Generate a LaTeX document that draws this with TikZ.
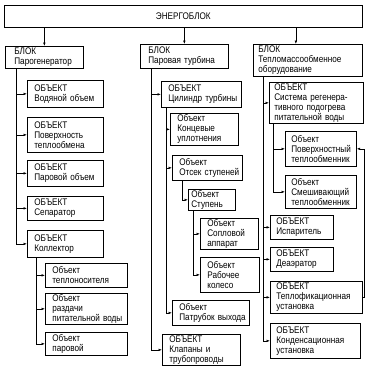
\documentclass[tikz,border=0pt]{standalone}
\usepackage{fontspec}
\setmainfont{Liberation Sans}[FakeStretch=0.85]
\usetikzlibrary{arrows.meta}

\begin{document}
\begin{tikzpicture}[x=1pt, y=-1pt,
         box/.style = {draw, line width=0.7pt, anchor=north west, align=left,
      inner xsep=7pt, inner ysep=1pt, font=\fontsize{9.6}{10}\selectfont},
         arr/.style = {line width=0.6pt, -{Latex[length=3.5pt,width=2.6pt]}}]

   \useasboundingbox (0,0) rectangle (365,373);

   % top
   \node[box, align=center, text width=344pt, minimum height=22pt] (top) at (4,5) {ЭНЕРГОБЛОК};

   % blocks
   \node[box, inner xsep=9pt, text width=60pt, minimum height=22pt] (blk1) at (5,46)  {БЛОК\\Парогенератор};
   \node[box, inner xsep=8pt, text width=72pt, minimum height=24pt] (blk2) at (140,44) {БЛОК\\Паровая~турбина};
   \node[box, inner xsep=5pt, text width=99pt, minimum height=32pt] (blk3) at (253,44) {БЛОК\\Тепломассообменное\\оборудование};

   % steam generator
   \node[box, text width=62pt, minimum height=27pt] (o11) at (27,80)  {ОБЪЕКТ\\Водяной~объем};
   \node[box, text width=62pt, minimum height=35pt] (o12) at (27,117) {ОБЪЕКТ\\Поверхность\\теплообмена};
   \node[box, text width=62pt, minimum height=26pt] (o13) at (27,160) {ОБЪЕКТ\\Паровой~объем};
   \node[box, text width=62pt, minimum height=24pt] (o14) at (27,196) {ОБЪЕКТ\\Сепаратор};
   \node[box, text width=62pt, minimum height=27pt] (o15) at (27,230) {ОБЪЕКТ\\Коллектор};
   \node[box, text width=68pt, minimum height=24pt] (o151) at (45,263) {Объект\\теплоносителя};
   \node[box, text width=68pt, minimum height=30pt] (o152) at (45,293) {Объект\\раздачи\\питательной~воды};
   \node[box, text width=68pt, minimum height=23pt] (o153) at (45,332) {Объект\\паровой};

   % turbine
   \node[box, text width=66pt, minimum height=26pt] (o21) at (161,81)  {ОБЪЕКТ\\Цилиндр~турбины};
   \node[box, text width=54pt, minimum height=32pt] (o211) at (170,113) {Объект\\Концевые\\уплотнения};
   \node[box, text width=56pt, minimum height=25pt] (o212) at (172,155) {Объект\\Отсек~ступеней};
   \node[box, inner xsep=3pt, text width=41pt, minimum height=19pt] (o2121) at (188,189) {Объект\\Ступень};
   \node[box, text width=44pt, minimum height=29pt] (o21211) at (200,218) {Объект\\Сопловой\\аппарат};
   \node[box, text width=45pt, minimum height=35pt] (o21212) at (200,257) {Объект\\Рабочее\\колесо};
   \node[box, text width=63pt, minimum height=25pt] (o213) at (172,300) {Объект\\Патрубок~выхода};
   \node[box, text width=64pt, minimum height=31pt] (o22) at (162,334)  {ОБЪЕКТ\\Клапаны~и\\трубопроводы};

   % heat and mass exchange
   \node[box, inner xsep=5pt, text width=84pt, minimum height=41pt] (o31) at (269,82) {ОБЪЕКТ\\Система~регенера-\\тивного~подогрева\\питательной~воды};
   \node[box, inner xsep=6pt, text width=59pt, minimum height=35pt] (o311) at (285,131) {Объект\\Поверхностный\\теплообменник};
   \node[box, inner xsep=6pt, text width=59pt, minimum height=33pt] (o312) at (285,175) {Объект\\Смешивающий\\теплообменник};
   \node[box, inner xsep=6pt, text width=51pt, minimum height=24pt] (o32) at (270,215) {ОБЪЕКТ\\Испаритель};
   \node[box, inner xsep=6pt, text width=51pt, minimum height=24pt] (o33) at (270,247) {ОБЪЕКТ\\Деаэратор};
   \node[box, inner xsep=6pt, text width=80pt, minimum height=32pt] (o34) at (270,281) {ОБЪЕКТ\\Теплофикационная\\установка};
   \node[box, inner xsep=6pt, text width=78pt, minimum height=35pt] (o35) at (270,323) {ОБЪЕКТ\\Конденсационная\\установка};

   \coordinate (rt) at (364,0);

   % top to blocks
   \draw[arr] (top.south -| blk1.north) -- (blk1.north);
   \draw[arr] (top.south -| blk2.north) -- (blk2.north);
   \draw[arr] ([xshift=-12pt]blk3.north |- top.south) -- ([xshift=-12pt]blk3.north);

   % steam generator links
   \draw[arr] ([xshift=11pt]blk1.south west) |- (o11.west);
   \draw[arr] ([xshift=11pt]blk1.south west) |- (o12.west);
   \draw[arr] ([xshift=11pt]blk1.south west) |- (o13.west);
   \draw[arr] ([xshift=11pt]blk1.south west) |- (o14.west);
   \draw[arr] ([xshift=11pt]blk1.south west) |- (o15.west);
   \draw[arr] ([xshift=9pt]o15.south west) |- (o151.west);
   \draw[arr] ([xshift=9pt]o15.south west) |- (o152.west);
   \draw[arr] ([xshift=9pt]o15.south west) |- (o153.west);

   % turbine links
   \draw[arr] ([xshift=11pt]blk2.south west) |- (o21.west);
   \draw[arr] ([xshift=11pt]blk2.south west) |- (o22.west);
   \draw[arr] ([xshift=5pt]o21.south west) |- (o211.west);
   \draw[arr] ([xshift=5pt]o21.south west) |- (o212.west);
   \draw[arr] ([xshift=5pt]o21.south west) |- (o213.west);
   \draw[arr] ([xshift=10pt]o212.south west) |- (o2121.west);
   \draw[arr] ([xshift=5pt]o2121.south west) |- (o21211.west);
   \draw[arr] ([xshift=5pt]o2121.south west) |- (o21212.west);

   % heat exchange links
   \draw[arr] ([xshift=10pt]blk3.south west) |- (o31.west);
   \draw[arr] ([xshift=10pt]blk3.south west) |- (o32.west);
   \draw[arr] ([xshift=10pt]blk3.south west) |- (o33.west);
   \draw[arr] ([xshift=10pt]blk3.south west) |- (o34.west);
   \draw[arr] ([xshift=10pt]blk3.south west) |- (o35.west);
   \draw[arr] ([xshift=4pt]o31.south west) |- (o311.west);
   \draw[arr] ([xshift=4pt]o31.south west) |- (o312.west);
   \draw[arr] (o34.east) -- (o34.east -| rt) |- (o311.east);

\end{tikzpicture}
\end{document}
